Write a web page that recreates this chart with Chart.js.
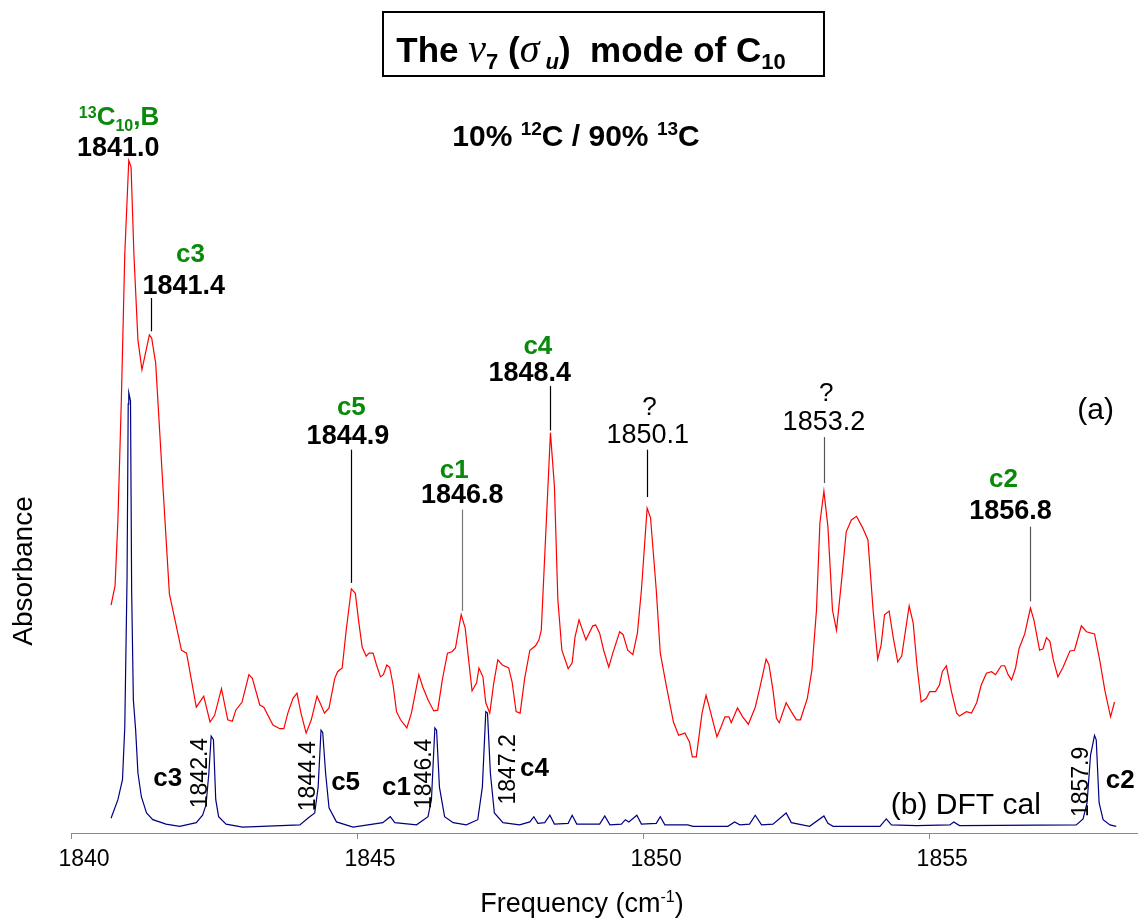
<!DOCTYPE html>
<html>
<head>
<meta charset="utf-8">
<script src="https://cdn.jsdelivr.net/npm/chart.js@4.4.1/dist/chart.umd.min.js"></script>
<style>
  html, body { margin: 0; padding: 0; background: #fff; }
  canvas { display: block; }
</style>
</head>
<body>
<canvas id="spectrum" width="1138" height="919"></canvas>
<script>
// (a) experimental spectrum, 10% 12C / 90% 13C (cm-1, arbitrary absorbance)
const expFreq = [
  1840.70, 1840.77, 1840.82, 1840.88, 1840.94, 1841.01, 1841.05, 1841.10, 1841.17, 1841.24,
  1841.37, 1841.41, 1841.48, 1841.60, 1841.72, 1841.84, 1841.93, 1842.02, 1842.19, 1842.32,
  1842.43, 1842.51, 1842.63, 1842.74, 1842.82, 1842.88, 1842.99, 1843.11, 1843.17, 1843.30,
  1843.37, 1843.53, 1843.65, 1843.72, 1843.79, 1843.88, 1843.95, 1844.02, 1844.11, 1844.20,
  1844.30, 1844.37, 1844.43, 1844.51, 1844.61, 1844.66, 1844.74, 1844.81, 1844.90, 1844.97,
  1845.03, 1845.09, 1845.16, 1845.21, 1845.28, 1845.34, 1845.41, 1845.46, 1845.52, 1845.57,
  1845.63, 1845.69, 1845.76, 1845.87, 1845.95, 1846.01, 1846.08, 1846.15, 1846.24, 1846.34,
  1846.41, 1846.49, 1846.58, 1846.66, 1846.72, 1846.82, 1846.89, 1846.94, 1847.01, 1847.09,
  1847.13, 1847.20, 1847.25, 1847.32, 1847.39, 1847.46, 1847.54, 1847.65, 1847.71, 1847.78,
  1847.85, 1847.93, 1848.02, 1848.12, 1848.18, 1848.22, 1848.38, 1848.45, 1848.51, 1848.58,
  1848.69, 1848.76, 1848.81, 1848.88, 1849.00, 1849.12, 1849.17, 1849.24, 1849.31, 1849.40,
  1849.47, 1849.59, 1849.65, 1849.73, 1849.82, 1849.90, 1849.97, 1850.07, 1850.13, 1850.23,
  1850.30, 1850.41, 1850.53, 1850.62, 1850.73, 1850.81, 1850.86, 1850.93, 1851.03, 1851.10,
  1851.17, 1851.29, 1851.36, 1851.43, 1851.50, 1851.54, 1851.65, 1851.74, 1851.84, 1851.96,
  1852.04, 1852.15, 1852.20, 1852.27, 1852.33, 1852.38, 1852.50, 1852.59, 1852.68, 1852.75,
  1852.87, 1852.95, 1853.03, 1853.09, 1853.16, 1853.23, 1853.31, 1853.38, 1853.47, 1853.55,
  1853.64, 1853.73, 1853.84, 1853.93, 1854.02, 1854.10, 1854.16, 1854.22, 1854.30, 1854.37,
  1854.45, 1854.52, 1854.65, 1854.72, 1854.79, 1854.86, 1854.95, 1855.01, 1855.11, 1855.18,
  1855.23, 1855.30, 1855.39, 1855.48, 1855.53, 1855.65, 1855.74, 1855.83, 1855.91, 1856.00,
  1856.09, 1856.16, 1856.26, 1856.32, 1856.38, 1856.44, 1856.51, 1856.57, 1856.67, 1856.77,
  1856.83, 1856.93, 1856.99, 1857.05, 1857.11, 1857.17, 1857.25, 1857.34, 1857.46, 1857.54,
  1857.66, 1857.75, 1857.89, 1857.98, 1858.07, 1858.17, 1858.24
];
const expAbs = [
  0.308, 0.334, 0.423, 0.585, 0.782, 0.909, 0.900, 0.781, 0.666, 0.626,
  0.673, 0.669, 0.635, 0.477, 0.323, 0.280, 0.247, 0.243, 0.170, 0.185,
  0.150, 0.159, 0.195, 0.153, 0.151, 0.166, 0.177, 0.214, 0.209, 0.173,
  0.170, 0.146, 0.141, 0.141, 0.162, 0.182, 0.189, 0.162, 0.135, 0.153,
  0.185, 0.173, 0.162, 0.169, 0.209, 0.218, 0.223, 0.274, 0.330, 0.324,
  0.285, 0.251, 0.239, 0.243, 0.243, 0.227, 0.211, 0.214, 0.227, 0.224,
  0.200, 0.164, 0.153, 0.142, 0.162, 0.186, 0.214, 0.197, 0.180, 0.165,
  0.166, 0.207, 0.243, 0.245, 0.250, 0.295, 0.277, 0.241, 0.192, 0.203,
  0.223, 0.211, 0.176, 0.162, 0.203, 0.234, 0.227, 0.223, 0.204, 0.164,
  0.162, 0.209, 0.247, 0.253, 0.261, 0.274, 0.541, 0.468, 0.315, 0.247,
  0.222, 0.230, 0.265, 0.288, 0.261, 0.280, 0.281, 0.270, 0.247, 0.224,
  0.243, 0.272, 0.268, 0.247, 0.241, 0.270, 0.328, 0.439, 0.426, 0.328,
  0.243, 0.197, 0.150, 0.132, 0.135, 0.123, 0.103, 0.103, 0.162, 0.186,
  0.166, 0.130, 0.143, 0.157, 0.157, 0.149, 0.169, 0.157, 0.147, 0.170,
  0.196, 0.235, 0.227, 0.193, 0.155, 0.149, 0.176, 0.164, 0.153, 0.153,
  0.182, 0.220, 0.301, 0.419, 0.462, 0.414, 0.301, 0.274, 0.342, 0.407,
  0.423, 0.428, 0.412, 0.396, 0.301, 0.235, 0.254, 0.295, 0.300, 0.265,
  0.231, 0.239, 0.307, 0.284, 0.224, 0.177, 0.182, 0.191, 0.191, 0.200,
  0.218, 0.226, 0.191, 0.162, 0.158, 0.164, 0.162, 0.176, 0.200, 0.216,
  0.218, 0.214, 0.226, 0.226, 0.214, 0.207, 0.223, 0.249, 0.269, 0.304,
  0.288, 0.247, 0.249, 0.264, 0.259, 0.234, 0.211, 0.224, 0.246, 0.247,
  0.280, 0.272, 0.269, 0.234, 0.193, 0.157, 0.177
];

// (b) DFT calculated spectrum
const dftFreq = [
  1840.70, 1840.82, 1840.90, 1840.94, 1840.98, 1841.00, 1841.01, 1841.04, 1841.06, 1841.09,
  1841.13, 1841.17, 1841.23, 1841.32, 1841.43, 1841.66, 1841.90, 1842.19, 1842.30, 1842.36,
  1842.41, 1842.45, 1842.49, 1842.53, 1842.58, 1842.71, 1843.00, 1844.00, 1844.14, 1844.26,
  1844.32, 1844.37, 1844.40, 1844.45, 1844.51, 1844.64, 1844.93, 1845.45, 1845.58, 1845.66,
  1846.04, 1846.24, 1846.30, 1846.36, 1846.39, 1846.44, 1846.53, 1846.68, 1846.91, 1847.11,
  1847.19, 1847.25, 1847.28, 1847.33, 1847.40, 1847.55, 1847.84, 1848.02, 1848.09, 1848.16,
  1848.28, 1848.37, 1848.45, 1848.69, 1848.76, 1848.84, 1849.24, 1849.33, 1849.42, 1849.62,
  1849.69, 1849.75, 1849.89, 1849.97, 1850.23, 1850.30, 1850.38, 1850.78, 1850.87, 1851.48,
  1851.60, 1851.69, 1851.86, 1851.96, 1852.07, 1852.27, 1852.50, 1852.59, 1852.91, 1853.16,
  1853.23, 1853.32, 1854.14, 1854.25, 1854.34, 1854.78, 1855.36, 1855.43, 1855.53, 1857.57,
  1857.69, 1857.76, 1857.82, 1857.89, 1857.92, 1857.97, 1858.04, 1858.16, 1858.27
];
const dftAbs = [
  0.020, 0.045, 0.072, 0.143, 0.347, 0.580, 0.595, 0.584, 0.328, 0.180,
  0.139, 0.081, 0.049, 0.027, 0.018, 0.012, 0.009, 0.014, 0.024, 0.038,
  0.081, 0.131, 0.126, 0.045, 0.022, 0.012, 0.008, 0.011, 0.020, 0.027,
  0.062, 0.139, 0.136, 0.081, 0.034, 0.015, 0.008, 0.014, 0.022, 0.014,
  0.011, 0.022, 0.045, 0.142, 0.139, 0.062, 0.022, 0.014, 0.011, 0.018,
  0.062, 0.164, 0.162, 0.081, 0.027, 0.014, 0.011, 0.015, 0.022, 0.013,
  0.014, 0.024, 0.012, 0.013, 0.024, 0.012, 0.012, 0.023, 0.011, 0.012,
  0.018, 0.015, 0.024, 0.012, 0.013, 0.022, 0.011, 0.011, 0.009, 0.009,
  0.015, 0.011, 0.012, 0.024, 0.011, 0.012, 0.027, 0.014, 0.009, 0.023,
  0.013, 0.009, 0.009, 0.019, 0.011, 0.010, 0.011, 0.015, 0.010, 0.011,
  0.019, 0.041, 0.105, 0.132, 0.126, 0.041, 0.018, 0.011, 0.009
];

const xTicks = [1840, 1845, 1850, 1855];

const SANS = '"Liberation Sans", Arial, Helvetica, sans-serif';
const SERIF = '"Liberation Serif", "Times New Roman", serif';
const GREEN = '#0a8a0a';

function seg(t, size, opt = {}) {
  return {
    t: t,
    font: (opt.italic ? 'italic ' : '') + (opt.bold ? 'bold ' : '') + size + 'px ' + (opt.family || SANS),
    dy: opt.dy || 0,
    color: opt.color || '#000'
  };
}

// draw a row of text pieces centred on cx, baseline y
function drawRich(ctx, parts, cx, y) {
  let total = 0;
  parts.forEach(p => { ctx.font = p.font; p.w = ctx.measureText(p.t).width; total += p.w; });
  let x = cx - total / 2;
  ctx.textAlign = 'left';
  ctx.textBaseline = 'alphabetic';
  parts.forEach(p => {
    ctx.font = p.font;
    ctx.fillStyle = p.color;
    ctx.fillText(p.t, x, y + p.dy);
    x += p.w;
  });
}

// peak labels above the experimental trace, placed in data units
const topNotes = [
  { tag: [seg('13', 16, { bold: true, color: GREEN, dy: -7 }), seg('C', 26, { bold: true, color: GREEN }),
          seg('10', 16, { bold: true, color: GREEN, dy: 6 }), seg(',B', 26, { bold: true, color: GREEN })],
    tagAt: [1840.84, 0.957], num: '1841.0', numAt: [1840.825, 0.915], bold: true },
  { tag: 'c3', tagAt: [1842.09, 0.772], num: '1841.4', numAt: [1841.97, 0.729], bold: true, line: [1841.40, 0.723, 0.678] },
  { tag: 'c5', tagAt: [1844.90, 0.565], num: '1844.9', numAt: [1844.84, 0.526], bold: true, line: [1844.90, 0.518, 0.338] },
  { tag: 'c1', tagAt: [1846.70, 0.480], num: '1846.8', numAt: [1846.84, 0.446], bold: true, line: [1846.83, 0.437, 0.300], lineColor: '#777' },
  { tag: 'c4', tagAt: [1848.16, 0.647], num: '1848.4', numAt: [1848.02, 0.611], bold: true, line: [1848.38, 0.604, 0.544] },
  { tag: '?', tagAt: [1850.11, 0.565], num: '1850.1', numAt: [1850.08, 0.527], bold: false, line: [1850.07, 0.518, 0.454] },
  { tag: '?', tagAt: [1853.20, 0.584], num: '1853.2', numAt: [1853.16, 0.545], bold: false, line: [1853.16, 0.535, 0.473], lineColor: '#555' },
  { tag: 'c2', tagAt: [1856.30, 0.467], num: '1856.8', numAt: [1856.42, 0.425], bold: true, line: [1856.76, 0.414, 0.313], lineColor: '#555' }
];

// labels along the DFT trace
const dftNotes = [
  { text: '1842.4', at: [1842.25, 0.081], rot: true },
  { text: 'c3', at: [1841.69, 0.064], bold: true },
  { text: '1844.4', at: [1844.13, 0.077], rot: true },
  { text: 'c5', at: [1844.80, 0.058], bold: true },
  { text: 'c1', at: [1845.69, 0.051], bold: true },
  { text: '1846.4', at: [1846.17, 0.080], rot: true },
  { text: '1847.2', at: [1847.63, 0.086], rot: true },
  { text: 'c4', at: [1848.10, 0.077], bold: true },
  { text: '1857.9', at: [1857.64, 0.069], rot: true },
  { text: 'c2', at: [1858.34, 0.061], bold: true }
];

const notesPlugin = {
  id: 'notes',
  beforeDraw(chart) {
    const ctx = chart.ctx;
    ctx.save();
    ctx.fillStyle = '#fff';
    ctx.fillRect(0, 0, chart.width, chart.height);
    ctx.restore();
  },
  afterDatasetsDraw(chart) {
    const ctx = chart.ctx;
    const xs = chart.scales.x, ys = chart.scales.y;
    const px = v => xs.getPixelForValue(v);
    const py = v => ys.getPixelForValue(v);
    ctx.save();

    // title box
    ctx.strokeStyle = '#000';
    ctx.lineWidth = 2;
    ctx.strokeRect(383, 12, 441, 64);
    drawRich(ctx, [
      seg('The ', 35, { bold: true }),
      seg('\u03BD', 40, { italic: true, family: SERIF }),
      seg('7', 22, { bold: true, dy: 7 }),
      seg(' (', 35, { bold: true }),
      seg('\u03C3', 40, { italic: true, family: SERIF }),
      seg(' u', 22, { bold: true, italic: true, dy: 7 }),
      seg(')  mode of C', 35, { bold: true }),
      seg('10', 22, { bold: true, dy: 7 })
    ], 591, 62);

    drawRich(ctx, [
      seg('10% ', 30, { bold: true }),
      seg('12', 19, { bold: true, dy: -11 }),
      seg('C / 90% ', 30, { bold: true }),
      seg('13', 19, { bold: true, dy: -11 }),
      seg('C', 30, { bold: true })
    ], 576, 146);

    // peak annotations of trace (a)
    topNotes.forEach(n => {
      const tagParts = typeof n.tag === 'string'
        ? [seg(n.tag, 26, { bold: n.tag !== '?', color: n.tag === '?' ? '#000' : GREEN })]
        : n.tag;
      drawRich(ctx, tagParts, px(n.tagAt[0]), py(n.tagAt[1]));
      drawRich(ctx, [seg(n.num, 27, { bold: n.bold })], px(n.numAt[0]), py(n.numAt[1]));
      if (n.line) {
        ctx.strokeStyle = n.lineColor || '#000';
        ctx.lineWidth = 1.2;
        ctx.beginPath();
        ctx.moveTo(Math.round(px(n.line[0])) + 0.5, py(n.line[1]));
        ctx.lineTo(Math.round(px(n.line[0])) + 0.5, py(n.line[2]));
        ctx.stroke();
      }
    });

    drawRich(ctx, [seg('(a)', 30)], px(1857.91), py(0.559));
    drawRich(ctx, [seg('(b) DFT cal', 30)], px(1855.64), py(0.026));

    // labels of trace (b)
    dftNotes.forEach(n => {
      if (n.rot) {
        ctx.save();
        ctx.translate(px(n.at[0]), py(n.at[1]));
        ctx.rotate(-Math.PI / 2);
        ctx.font = '23px ' + SANS;
        ctx.fillStyle = '#000';
        ctx.textAlign = 'center';
        ctx.textBaseline = 'middle';
        ctx.fillText(n.text, 0, 1);
        ctx.restore();
      } else {
        drawRich(ctx, [seg(n.text, 26, { bold: true })], px(n.at[0]), py(n.at[1]));
      }
    });

    // axis titles
    ctx.save();
    ctx.translate(24, 571);
    ctx.rotate(-Math.PI / 2);
    ctx.font = '28px ' + SANS;
    ctx.fillStyle = '#000';
    ctx.textAlign = 'center';
    ctx.textBaseline = 'middle';
    ctx.fillText('Absorbance', 0, 0);
    ctx.restore();

    drawRich(ctx, [seg('Frequency (cm', 27), seg('-1', 16, { dy: -10 }), seg(')', 27)], 582, 912);
    ctx.restore();
  }
};

const ctx = document.getElementById('spectrum').getContext('2d');
new Chart(ctx, {
  type: 'line',
  data: {
    datasets: [
      {
        label: '(a) 10% 12C / 90% 13C',
        data: expFreq.map((f, i) => ({ x: f, y: expAbs[i] })),
        borderColor: '#ff0000',
        borderWidth: 1.2,
        pointRadius: 0,
        tension: 0,
        fill: false
      },
      {
        label: '(b) DFT cal',
        data: dftFreq.map((f, i) => ({ x: f, y: dftAbs[i] })),
        borderColor: '#000080',
        borderWidth: 1.2,
        pointRadius: 0,
        tension: 0,
        fill: false
      }
    ]
  },
  options: {
    responsive: false,
    animation: false,
    layout: { padding: { left: 71, right: 0, top: 93, bottom: 0 } },
    plugins: { legend: { display: false }, tooltip: { enabled: false }, title: { display: false } },
    scales: {
      x: {
        type: 'linear',
        min: 1840,
        max: 1858.65,
        afterFit: s => { s.height = 86; },
        afterBuildTicks: s => { s.ticks = xTicks.map(v => ({ value: v })); },
        ticks: {
          color: '#000',
          padding: 7,
          labelOffset: 13,
          font: { family: SANS, size: 23 },
          callback: v => String(v)
        },
        grid: { drawOnChartArea: false, drawTicks: true, tickLength: 6, color: '#8a8a8a' },
        border: { display: true, color: '#8a8a8a', width: 1 }
      },
      y: { display: false, min: 0, max: 1 }
    }
  },
  plugins: [notesPlugin]
});
</script>
</body>
</html>
